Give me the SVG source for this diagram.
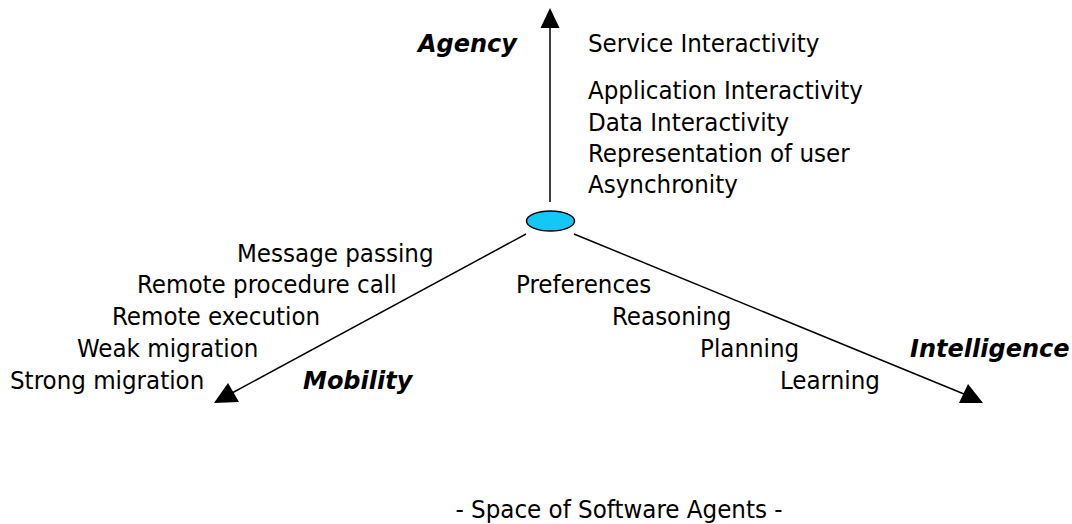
<svg xmlns="http://www.w3.org/2000/svg" width="1072" height="524" viewBox="0 0 1072 524">
  <style>
    .t { font-family: "DejaVu Sans Condensed", "DejaVu Sans", sans-serif; font-size: 25.6px; fill: #000; }
    .ax { font-family: "DejaVu Sans", Verdana, sans-serif; font-size: 24px; font-weight: bold; font-style: italic; fill: #000; }
    .axis { stroke: #000; stroke-width: 1.5; fill: none; }
    .head { fill: #000; }
  </style>
  <rect width="1072" height="524" fill="#fff"/>

  <!-- axes -->
  <g id="connectors">
    <line class="axis" x1="550" y1="202" x2="550" y2="26"/>
    <polygon class="head" points="550,8 540.5,28 559.5,28"/>
    <line class="axis" x1="526" y1="234" x2="232" y2="393"/>
    <polygon class="head" points="214,403 228,383 239,402"/>
    <line class="axis" x1="574" y1="234" x2="964" y2="394"/>
    <polygon class="head" points="983,403 959,403 968,384"/>
  </g>

  <!-- origin -->
  <g id="origin">
    <ellipse cx="550.5" cy="221" rx="24" ry="10" fill="#14C8F5" stroke="#000" stroke-width="1.5"/>
  </g>

  <!-- agency axis -->
  <g id="agency">
    <text class="ax" x="418" y="52">Agency</text>
    <text class="t" x="588" y="52">Service Interactivity</text>
    <text class="t" x="588" y="99">Application Interactivity</text>
    <text class="t" x="588" y="131">Data Interactivity</text>
    <text class="t" x="588" y="162">Representation of user</text>
    <text class="t" x="588" y="193">Asynchronity</text>
  </g>

  <!-- mobility axis -->
  <g id="mobility">
    <text class="t" x="237" y="262">Message passing</text>
    <text class="t" x="137" y="293">Remote procedure call</text>
    <text class="t" x="112" y="325">Remote execution</text>
    <text class="t" x="77" y="357">Weak migration</text>
    <text class="t" x="10" y="389">Strong migration</text>
    <text class="ax" x="303" y="389">Mobility</text>
  </g>

  <!-- intelligence axis -->
  <g id="intelligence">
    <text class="t" x="516" y="293">Preferences</text>
    <text class="t" x="612" y="325">Reasoning</text>
    <text class="t" x="700" y="357">Planning</text>
    <text class="t" x="780" y="389">Learning</text>
    <text class="ax" x="910" y="357">Intelligence</text>
  </g>

  <!-- caption -->
  <g id="caption">
    <text class="t" x="619" y="518" text-anchor="middle">- Space of Software Agents -</text>
  </g>
</svg>
